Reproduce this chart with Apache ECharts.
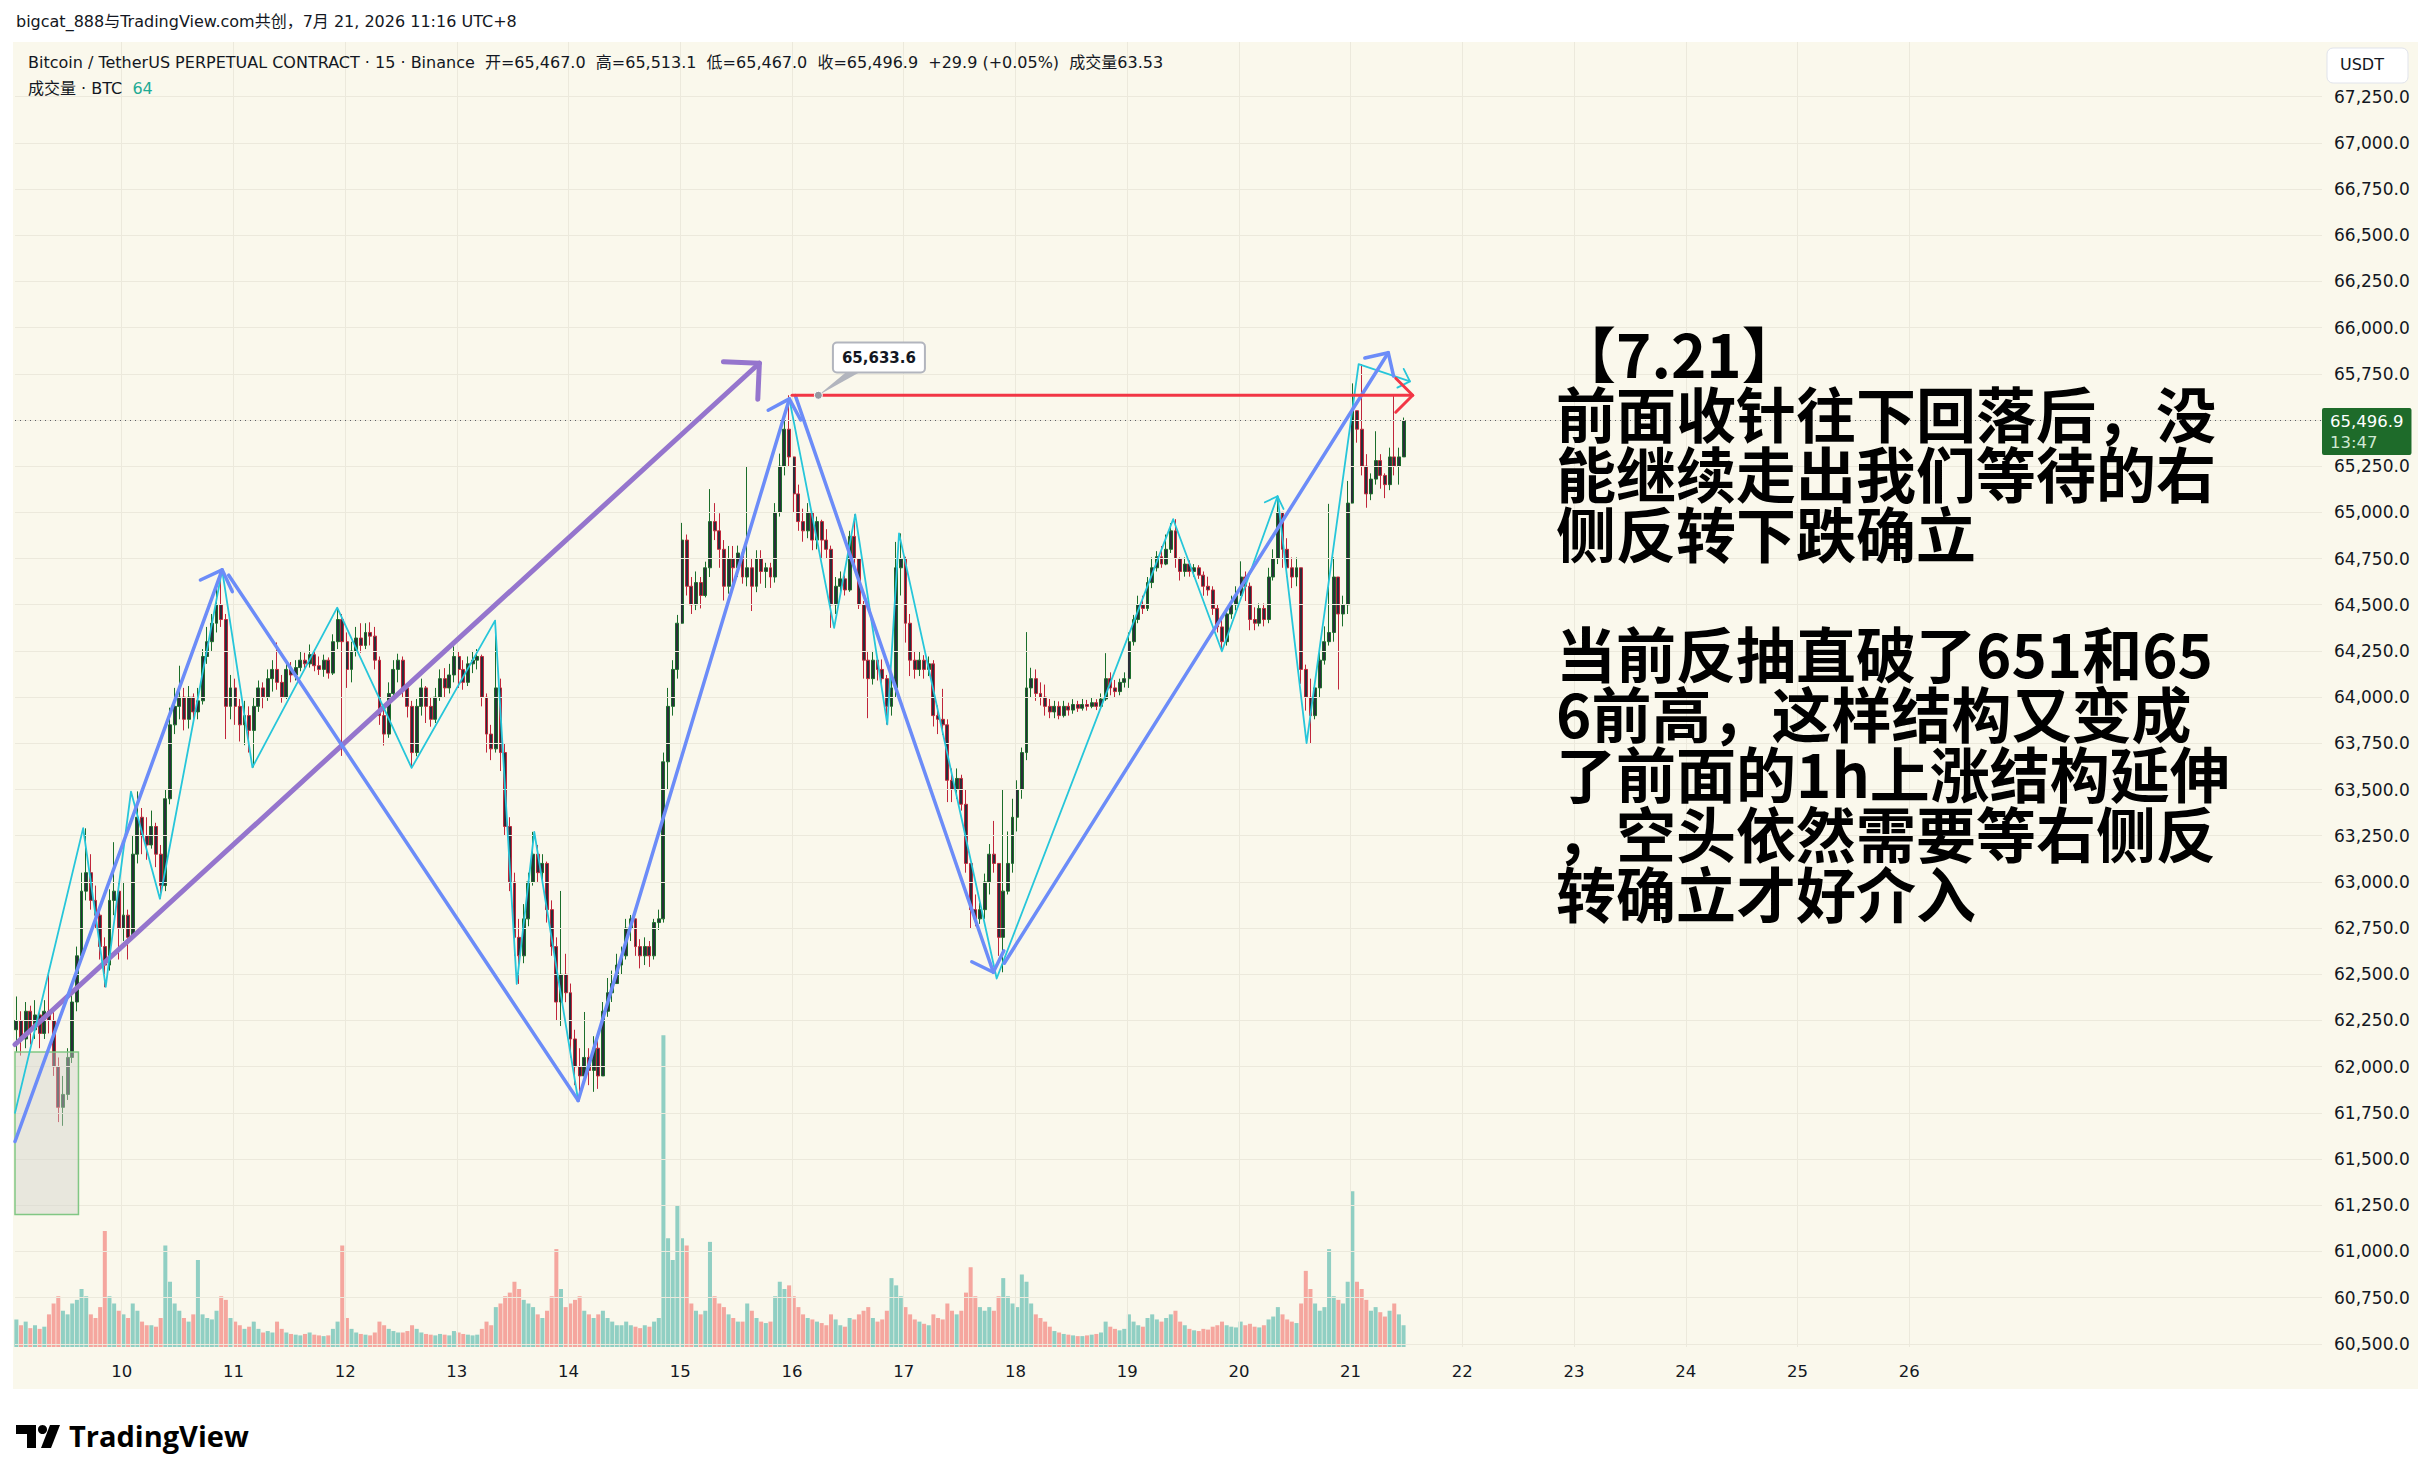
<!DOCTYPE html>
<html><head><meta charset="utf-8">
<script src="https://cdn.jsdelivr.net/npm/echarts@6/dist/echarts.min.js"></script>
<style>html,body{margin:0;padding:0;background:#ffffff;}#c{width:2433px;height:1481px;}</style>
</head><body><div id="c"></div>
<script>
// ---------- DATA (hourly bars, UTC+8) ----------
const firstBarDay = 9 + 1 / 24;   // Jul 9 01:00
const barStep = 1 / 24;           // one hour
const firstOpen = 62200;
const closes = [
 62250,62150,62300,62200,62280,62180,62300,62250,62000,61780,61850,62050,62350,62600,62950,63050,62900,62820,62650,62550,62900,62950,62750,
 62820,62700,63150,63350,63250,63200,63300,63150,62980,63450,63850,63950,64000,63880,64000,63920,63980,64220,64300,64400,64500,64420,63950,64050,
 63950,63850,63900,63820,63950,64050,64000,64100,64150,64080,64000,64150,64120,64160,64200,64180,64230,64170,64150,64200,64130,64300,64420,64300,
 64150,64250,64320,64280,64350,64330,64200,63900,63800,64020,64150,64200,64050,63950,63700,63950,64050,63950,63880,64000,64100,64050,64120,64220,
 64150,64080,64180,64200,64220,64000,63800,63720,64050,63700,63300,63000,62700,62600,62800,63000,63150,63050,63100,62850,62650,62350,62500,62400,
 62150,62000,61950,62050,61980,62100,61950,62300,62400,62450,62550,62600,62750,62800,62650,62600,62650,62600,62780,62800,63650,63950,64150,64400,
 64850,64600,64500,64620,64550,64700,64950,64900,64800,64600,64750,64700,64780,64650,64700,64600,64750,64680,64700,64650,65000,65250,65450,65300,
 65100,64950,64900,65000,64850,64950,64850,64800,64500,64600,64640,64580,64870,64750,64500,64200,64100,64200,64150,64100,63950,64050,64700,64750,
 64400,64200,64150,64200,64150,64180,63900,63880,63850,63550,63500,63560,63420,63100,62850,62800,62850,63000,63150,63100,62700,62950,63100,63350,
 63500,63700,64050,64100,64020,64000,63950,63920,63950,63900,63950,63930,63960,63940,63960,63950,63970,63950,63990,64100,64050,64030,64080,64100,
 64300,64420,64500,64480,64620,64700,64760,64720,64800,64900,64750,64680,64720,64680,64700,64660,64600,64580,64480,64380,64300,64450,64500,64550,
 64650,64600,64420,64400,64480,64420,64650,64750,65000,64800,64700,64650,64700,64150,64000,63900,64050,64200,64300,64350,64650,64450,64500,65050,
 65550,65450,65250,65100,65180,65280,65200,65150,65300,65250,65300,65496.9
];
const highs = [
 62380,62300,62350,62330,62360,62300,62360,62520,62300,62050,61950,62100,62420,62650,63050,63290,63150,62980,62850,62700,62960,63215,63000,
 63000,62850,63250,63490,63400,63350,63386,63320,63200,63500,63943,64050,64170,64050,64060,64020,64050,64260,64380,64450,64600,64689,64450,64120,
 64100,63990,63980,63950,64000,64090,64080,64150,64200,64296,64120,64180,64190,64200,64250,64240,64285,64260,64220,64230,64215,64340,64484,64450,
 64350,64300,64380,64400,64400,64405,64380,64220,63950,64080,64200,64235,64220,64060,63980,63990,64100,64060,64000,64050,64150,64157,64180,64275,
 64250,64200,64220,64250,64260,64230,64020,63850,64414,64100,63750,63350,63050,62800,62880,63050,63271,63200,63150,63110,62900,62700,62951,62611,
 62450,62200,62100,62296,62100,62165,62150,62350,62480,62520,62611,62650,62800,62821,62800,62690,62700,62680,62800,62850,63700,64050,64200,64445,
 64943,64880,64650,64680,64650,64733,65126,65050,64995,64850,64818,64818,64820,64800,65250,64750,64795,64795,64727,64727,65050,65318,65500,65633.6,
 65300,65150,65020,65050,65000,64977,64960,64909,64820,64650,64680,64659,64900,64989,64750,64520,64250,64250,64204,64204,64120,64100,64840,64886,
 64760,64450,64250,64250,64227,64220,64200,63955,64045,63880,63614,63614,63580,63500,63100,62932,62886,63045,63205,63330,63100,63500,63273,63450,
 63550,63727,64352,64159,64150,64080,64068,63990,63980,63977,63980,63970,63989,63980,63990,63985,63995,63989,64020,64238,64134,64093,64100,64134,
 64350,64445,64549,64549,64650,64756,64790,64818,64880,64942,64963,64756,64756,64740,64720,64714,64680,64652,64600,64500,64424,64480,64549,64600,
 64735,64680,64620,64486,64507,64507,64700,64800,65087,65000,64860,64756,64756,64700,64176,64100,64072,64259,64383,65046,64756,64650,64549,65170,
 65698,65550,65802,65315,65211,65439,65315,65211,65350,65636,65350,65513.1
];
const lows = [
 62080,62060,62100,62120,62150,62100,62150,62180,61950,61700,61680,61820,62020,62300,62580,62900,62850,62750,62580,62430,62520,62820,62580,
 62680,62580,62700,63100,63150,63120,63180,63080,62910,62950,63420,63800,63880,63820,63830,63870,63880,63960,64180,64250,64350,64380,63773,63880,
 63850,63760,63740,63700,63620,63920,63940,63980,64030,64040,63970,63990,64080,64090,64140,64150,64160,64140,64120,64110,64100,64120,64260,63682,
 64050,64080,64220,64240,64260,64280,64150,63850,63738,63780,63990,64080,64000,63890,63617,63680,63900,63860,63840,63860,63980,64000,64020,64080,
 64050,64040,64060,64130,64150,63950,63700,63659,63700,63600,63250,62950,62600,62448,62560,62760,62980,63000,63000,62780,62600,62250,62220,62349,
 62050,61900,61817,61950,61900,61864,61880,61950,62270,62350,62450,62500,62580,62680,62600,62532,62550,62540,62580,62740,62780,63500,63900,64100,
 64400,64550,64450,64471,64480,64540,64650,64850,64700,64523,64560,64614,64650,64614,64600,64466,64568,64614,64591,64591,64620,64977,65200,65250,
 65000,64900,64841,64860,64795,64800,64750,64750,64375,64450,64568,64550,64570,64700,64477,64100,63886,64068,64090,64050,63852,63900,64000,64550,
 64295,64114,64100,64114,64100,64114,63841,63800,63795,63432,63432,63450,63386,63050,62750,62760,62773,62800,62932,63050,62600,62511,62932,63050,
 63273,63450,63659,64000,63980,63955,63900,63886,63886,63880,63890,63900,63910,63920,63927,63927,63940,63930,63940,63980,64010,64000,64010,64052,
 64050,64279,64400,64450,64466,64590,64680,64700,64714,64780,64700,64631,64652,64652,64652,64640,64549,64549,64445,64350,64248,64279,64424,64470,
 64549,64520,64362,64362,64383,64383,64400,64631,64720,64700,64652,64590,64600,64072,63927,63751,63880,64000,64176,64279,64300,64041,64383,64450,
 65050,65377,65200,65025,65066,65150,65128,65077,65120,65200,65150,65300
];
const volumes = [
 380,300,350,260,300,250,280,450,600,700,500,450,600,650,800,700,450,400,550,1600,700,600,500,
 450,400,600,500,350,300,300,280,400,1400,900,600,500,400,350,450,1200,450,400,380,500,700,650,400,
 350,300,250,280,350,250,200,220,200,350,250,200,180,170,160,180,200,170,160,150,160,250,350,1400,
 400,250,200,180,170,160,200,350,300,250,220,200,200,220,300,250,200,180,170,160,180,170,160,220,
 200,180,170,160,170,250,350,300,550,600,700,750,900,800,650,600,550,450,400,500,700,1350,800,550,
 600,650,700,500,450,400,450,500,400,350,300,300,350,300,280,260,300,280,350,400,4300,1500,1200,1950,
 1500,1400,600,500,450,500,1450,700,600,550,450,400,350,350,600,500,400,350,330,350,700,900,800,850,
 700,550,450,400,380,350,330,300,450,380,300,280,400,380,450,500,550,400,350,380,500,950,850,700,
 550,450,380,350,320,300,450,400,380,600,500,450,500,750,1100,700,550,500,550,500,700,950,700,600,
 550,1000,900,600,450,400,350,280,220,200,180,170,160,150,150,160,170,180,200,350,280,250,230,250,
 450,350,300,280,400,450,380,350,400,450,500,350,300,250,230,220,250,240,280,300,350,300,280,270,
 350,300,320,280,270,300,380,420,550,450,380,350,330,600,1050,800,600,500,550,1350,700,650,600,900,
 2150,900,800,650,500,550,480,420,500,600,450,300
];
// last 15m bar shown in the legend
const lastBar = { open: 65467.0, high: 65513.1, low: 65467.0, close: 65496.9, change: 29.9, pct: 0.05, vol: 63.53, volRounded: 64 };
const countdown = '13:47';
// axis ticks
const dayTicks = [10,11,12,13,14,15,16,17,18,19,20,21,22,23,24,25,26];
const priceTicks = [60500,60750,61000,61250,61500,61750,62000,62250,62500,62750,63000,63250,63500,63750,64000,64250,64500,64750,65000,65250,65500,65750,66000,66250,66500,66750,67000,67250];
const priceLabelsHidden = [65500]; // covered by the last-price tag in the reference
// drawings [day, price]
const purpleTrend = [[9.045, 62120], [15.708, 65807]];
const blueLeg1 = [[9.045, 61595], [10.899, 64689]];
const blueLeg2 = [[10.958, 64660], [14.086, 61817]];
const blueLeg3 = [[14.086, 61817], [15.976, 65614]];
const blueLeg4 = [[16.03, 65632], [17.802, 62511]];
const blueLeg5 = [[17.9, 62560], [21.337, 65864]];
const cyanPath1 = [[9.045,61750],[9.655,63291],[9.857,62432],[10.083,63489],[10.342,62909],[10.899,64689],[11.17,63620],[11.929,64484],[12.595,63617],[13.342,64414],[13.536,62448],[13.693,63271],[14.086,61817]];
const cyanPath2 = [[15.976,65614],[16.377,64375],[16.566,64989],[16.853,63852],[16.958,64886],[17.832,62477],[19.412,64963],[19.848,64248],[20.346,65087]];
const cyanPath3 = [[20.346,65087],[20.606,63751],[21.072,65802],[21.531,65709]];
const resistance = 65633.6;
const redRay = [[16.0, resistance], [21.556, resistance]];
const grayBox = [[9.045, 62080], [9.613, 61200]];
const calloutAnchor = [16.236, resistance];
const calloutBox = [16.778, 65838];
const noteText = '【7.21】\n前面收针往下回落后，没\n能继续走出我们等待的右\n侧反转下跌确立\n\n当前反抽直破了651和65\n6前高，这样结构又变成\n了前面的1h上涨结构延伸\n，空头依然需要等右侧反\n转确立才好介入';

// ---------- BUILD ----------
const fmt1 = v => v.toLocaleString('en-US', {minimumFractionDigits: 1, maximumFractionDigits: 1});
const candleData = [], volData = [];
let prev = firstOpen;
for (let i = 0; i < closes.length; i++) {
  const x = firstBarDay + i * barStep + barStep * 0.375;
  const o = prev, c = closes[i];
  candleData.push([x, o, c, lows[i], highs[i]]);
  volData.push({ value: [x, volumes[i]], itemStyle: { color: c >= o ? 'rgba(38,166,154,0.5)' : 'rgba(239,83,80,0.5)' } });
  prev = c;
}
const styles = {
  purple: { stroke: '#9575cd', lineWidth: 5, head: 36 },
  blue:   { stroke: '#6c8cf8', lineWidth: 3.5, head: 24 },
  cyan:   { stroke: '#26c6da', lineWidth: 1.8, head: 14 },
  red:    { stroke: '#f23645', lineWidth: 3, head: 24 }
};
const drawings = [
  { kind: 'box', pts: grayBox },
  { kind: 'purple', arrow: true, pts: purpleTrend },
  { kind: 'cyan', pts: cyanPath1 },
  { kind: 'cyan', arrow: true, pts: cyanPath2 },
  { kind: 'cyan', arrow: true, pts: cyanPath3 },
  { kind: 'blue', arrow: true, pts: blueLeg1 },
  { kind: 'blue', pts: blueLeg2 },
  { kind: 'blue', arrow: true, pts: blueLeg3 },
  { kind: 'blue', arrow: true, pts: blueLeg4 },
  { kind: 'blue', arrow: true, pts: blueLeg5 },
  { kind: 'red', arrow: true, pts: redRay },
  { kind: 'callout' }
];
function renderDrawing(params, api) {
  const d = drawings[params.dataIndex];
  if (d.kind === 'box') {
    const a = api.coord(d.pts[0]), b = api.coord(d.pts[1]);
    return { type: 'rect', shape: { x: a[0], y: a[1], width: b[0] - a[0], height: b[1] - a[1] },
      style: { fill: 'rgba(210,210,205,0.45)', stroke: '#81c784', lineWidth: 1.5 } };
  }
  if (d.kind === 'callout') {
    const p = api.coord(calloutAnchor), q = api.coord(calloutBox);
    const w = 92, h = 30;
    return { type: 'group', children: [
      { type: 'polygon', shape: { points: [[p[0], p[1]], [q[0] - w/2 + 14, q[1] + h/2 - 1], [q[0] - w/2 + 28, q[1] + h/2 - 1]] }, style: { fill: '#b2b5be' } },
      { type: 'circle', shape: { cx: p[0], cy: p[1], r: 4 }, style: { fill: '#9598a1', stroke: '#ffffff', lineWidth: 1 } },
      { type: 'rect', shape: { x: q[0] - w/2, y: q[1] - h/2, width: w, height: h, r: 4 }, style: { fill: '#ffffff', stroke: '#b2b5be', lineWidth: 2 } },
      { type: 'text', style: { x: q[0], y: q[1], text: fmt1(resistance), align: 'center', verticalAlign: 'middle', font: 'bold 15px "DejaVu Sans"', fill: '#131722' } }
    ]};
  }
  const st = styles[d.kind];
  const pts = d.pts.map(p => api.coord(p));
  const ls = { stroke: st.stroke, lineWidth: st.lineWidth, fill: null, lineCap: 'round', lineJoin: 'round' };
  const children = [{ type: 'polyline', shape: { points: pts }, style: ls }];
  if (d.arrow) {
    const p1 = pts[pts.length - 2], p2 = pts[pts.length - 1];
    const ang = Math.atan2(p2[1] - p1[1], p2[0] - p1[0]);
    const wing = a => [p2[0] - st.head * Math.cos(ang + a), p2[1] - st.head * Math.sin(ang + a)];
    children.push({ type: 'polyline', shape: { points: [wing(Math.PI / 4), p2, wing(-Math.PI / 4)] }, style: ls });
  }
  return { type: 'group', children };
}

const GRID = { left: 15, right: 111, top: 42, bottom: 134 };
const gridLines = [].concat(dayTicks.map(d => ({ xAxis: d })), priceTicks.map(p => ({ yAxis: p })));
const priceLabels = priceTicks.filter(p => priceLabelsHidden.indexOf(p) < 0);
const UI_FONT = '"DejaVu Sans", "Noto Sans CJK SC"';

const chart = echarts.init(document.getElementById('c'), null, { renderer: 'svg' });
chart.setOption({
  animation: false,
  backgroundColor: '#ffffff',
  grid: GRID,
  xAxis: {
    type: 'value', min: 9.045, max: 29.695,
    axisLine: { show: false }, axisTick: { show: false }, splitLine: { show: false },
    axisLabel: { customValues: dayTicks, formatter: v => String(Math.round(v)), color: '#131722', fontSize: 16.5, fontFamily: 'DejaVu Sans', margin: 16 }
  },
  yAxis: [
    { type: 'value', position: 'right', min: 60483, max: 67545.5, scale: true,
      axisLine: { show: false }, axisTick: { show: false }, splitLine: { show: false },
      axisLabel: { customValues: priceLabels, formatter: v => fmt1(v), color: '#131722', fontSize: 17, fontFamily: 'DejaVu Sans', margin: 12, align: 'left' } },
    { type: 'value', min: 0, max: 18000, show: false }
  ],
  graphic: [
    { type: 'rect', z: -10, silent: true, shape: { x: 13, y: 42, width: 2405, height: 1347 }, style: { fill: '#faf8ec' } },
    { type: 'text', z: 100, left: 16, top: 13, style: { text: 'bigcat_888与TradingView.com共创，7月 21, 2026 11:16 UTC+8', font: '16px ' + UI_FONT, fill: '#131722' } },
    { type: 'text', z: 100, left: 28, top: 54, style: { text: 'Bitcoin / TetherUS PERPETUAL CONTRACT · 15 · Binance  开=' + fmt1(lastBar.open) + '  高=' + fmt1(lastBar.high) + '  低=' + fmt1(lastBar.low) + '  收=' + fmt1(lastBar.close) + '  +' + lastBar.change.toFixed(1) + ' (+' + lastBar.pct.toFixed(2) + '%)  成交量' + lastBar.vol.toFixed(2), font: '16px ' + UI_FONT, fill: '#131722' } },
    { type: 'text', z: 100, left: 28, top: 80, style: { rich: { a: { fill: '#131722', font: '16px ' + UI_FONT }, b: { fill: '#22ab94', font: '16px "DejaVu Sans"' } }, text: '{a|成交量 · BTC  }{b|' + lastBar.volRounded + '}' } },
    { type: 'text', z: 100, left: 1556, top: 321, style: { text: noteText, font: 'bold 60px "Noto Sans CJK SC"', lineHeight: 60, fill: '#000000' } },
    { type: 'rect', z: 100, shape: { x: 2327, y: 48, width: 81, height: 35, r: 6 }, style: { fill: '#ffffff', stroke: '#e0e3eb', lineWidth: 1 } },
    { type: 'text', z: 101, left: 2340, top: 56, style: { text: 'USDT', font: '16px "DejaVu Sans"', fill: '#131722' } },
    { type: 'polygon', z: 100, shape: { points: [[16,1425],[36,1425],[36,1448],[27,1448],[27,1434],[16,1434]] }, style: { fill: '#000000' } },
    { type: 'circle', z: 100, shape: { cx: 42.5, cy: 1429.5, r: 4.5 }, style: { fill: '#000000' } },
    { type: 'polygon', z: 100, shape: { points: [[50,1425],[60,1425],[51,1448],[41,1448]] }, style: { fill: '#000000' } },
    { type: 'text', z: 100, left: 69, top: 1421, style: { text: 'TradingView', font: 'bold 29px "Open Sans", "DejaVu Sans"', fill: '#000000' } }
  ],
  series: [
    { type: 'line', z: 1, data: [[9.5, 63000]], symbol: 'none', lineStyle: { opacity: 0 }, silent: true,
      markLine: { silent: true, symbol: 'none', label: { show: false }, lineStyle: { color: '#ece9dc', width: 1, type: 'solid' }, data: gridLines } },
    { type: 'bar', name: 'vol', yAxisIndex: 1, z: 2, barWidth: 4, data: volData, silent: true },
    { type: 'candlestick', z: 3, barWidth: 3.4, encode: { x: 0, y: [1, 2, 3, 4] }, data: candleData, silent: true,
      itemStyle: { color: '#2a2e39', color0: '#2a2e39', borderColor: '#1b6e2b', borderColor0: '#c0263a', borderWidth: 1 },
      markLine: { silent: true, symbol: 'none', data: [{ yAxis: lastBar.close }],
        lineStyle: { color: '#5d6068', width: 1, type: [1, 4] },
        label: { position: 'end', distance: 0, offset: [0, 11], formatter: '{a|' + fmt1(lastBar.close) + '}\n{b|' + countdown + '}', backgroundColor: '#1e6b2a', padding: [3, 8, 2, 8], borderRadius: 2,
          rich: { a: { color: '#ffffff', fontSize: 16.5, fontFamily: 'DejaVu Sans', lineHeight: 21 }, b: { color: '#cfe8d2', fontSize: 16.5, fontFamily: 'DejaVu Sans', lineHeight: 21 } } } } },
    { type: 'custom', z: 10, silent: true, renderItem: renderDrawing, encode: { x: 0, y: 1 },
      data: drawings.map(() => [12, 63000]) }
  ]
});
</script></body></html>
